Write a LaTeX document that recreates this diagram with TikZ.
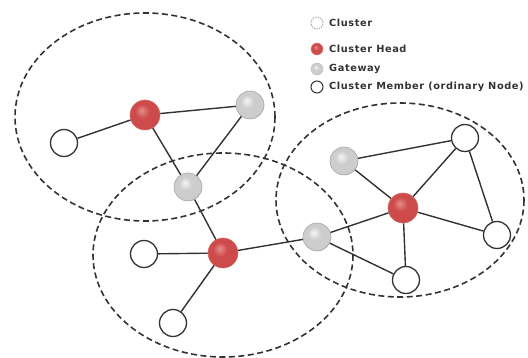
\documentclass[tikz,border=0pt]{standalone}
\usepackage{fontspec}
\setmainfont{DejaVu Sans}
\newfontfamily\legendfont[LetterSpace=6]{DejaVu Sans}
\usetikzlibrary{shadings}
\definecolor{edgecol}{RGB}{50,50,50}
\definecolor{chA}{RGB}{232,140,140}
\definecolor{chB}{RGB}{205,75,75}
\definecolor{chC}{RGB}{150,40,40}
\definecolor{gwA}{RGB}{245,245,245}
\definecolor{gwB}{RGB}{205,205,205}
\definecolor{gwC}{RGB}{145,145,145}
\pgfdeclareradialshading{redball}{\pgfpoint{-6bp}{8bp}}{color(0bp)=(chA); color(12bp)=(chB); color(26bp)=(chB); color(34bp)=(chC); color(50bp)=(chC)}
\pgfdeclareradialshading{grayball}{\pgfpoint{-6bp}{8bp}}{color(0bp)=(gwA); color(12bp)=(gwB); color(26bp)=(gwB); color(34bp)=(gwC); color(50bp)=(gwC)}
\begin{document}
\begin{tikzpicture}[x=1pt,y=-1pt,
  cluster/.style={draw=black!80,line width=1.6pt,dash pattern=on 6pt off 3.5pt},
  link/.style={draw=edgecol,line width=1.4pt},
  member/.style={circle,draw=black!80,line width=1.3pt,fill=white,minimum size=27pt,inner sep=0pt},
  head/.style={circle,draw=chB!80!white,line width=0.6pt,shading=redball,minimum size=30pt,inner sep=0pt},
  gateway/.style={circle,draw=gray!70,line width=0.6pt,shading=grayball,minimum size=28pt,inner sep=0pt},
  lmember/.style={circle,draw=black!80,line width=1pt,fill=white,minimum size=12pt,inner sep=0pt},
  lcluster/.style={circle,draw=gray!60,dash pattern=on 1.5pt off 1pt,line width=1pt,fill=white,minimum size=12pt,inner sep=0pt},
  lhead/.style={circle,draw=chB!70!white,line width=0.5pt,shading=redball,minimum size=12pt,inner sep=0pt},
  lgateway/.style={circle,draw=gray!50,line width=0.5pt,shading=grayball,minimum size=12pt,inner sep=0pt},
  ltext/.style={anchor=west,inner sep=0pt,font=\legendfont\fontsize{9.8}{11}\selectfont\bfseries,text=black!80}]
\useasboundingbox (0,0) rectangle (528,358);
% clusters
\coordinate (k1) at (145,117);
\coordinate (k2) at (223,255);
\coordinate (k3) at (400,200);
\draw[cluster] (k1) ellipse [x radius=130, y radius=104];
\draw[cluster] (k2) ellipse [x radius=130, y radius=102];
\draw[cluster] (k3) ellipse [x radius=124, y radius=97];
% nodes
\node[head] (h1) at (145,115) {};
\node[member] (m1) at (64,143) {};
\node[gateway] (g1) at (250,105) {};
\node[gateway] (g2) at (188,187) {};
\node[head] (h2) at (223,253) {};
\node[member] (m2) at (144,254) {};
\node[member] (m3) at (173,323) {};
\node[gateway] (g3) at (317,237) {};
\node[head] (h3) at (403,208) {};
\node[gateway] (g4) at (344,161) {};
\node[member] (m4) at (465,138) {};
\node[member] (m5) at (497,235) {};
\node[member] (m6) at (406,280) {};
% links
\draw[link] (m1) -- (h1);
\draw[link] (h1) -- (g1);
\draw[link] (h1) -- (g2);
\draw[link] (g1) -- (g2);
\draw[link] (g2) -- (h2);
\draw[link] (h2) -- (m2);
\draw[link] (h2) -- (m3);
\draw[link] (h2) -- (g3);
\draw[link] (g3) -- (h3);
\draw[link] (g3) -- (m6);
\draw[link] (h3) -- (g4);
\draw[link] (g4) -- (m4);
\draw[link] (h3) -- (m4);
\draw[link] (h3) -- (m5);
\draw[link] (m4) -- (m5);
\draw[link] (h3) -- (m6);
% legend
\node[lcluster] (l1) at (317,23) {};
\node[lhead] (l2) at (317,49) {};
\node[lgateway] (l3) at (317,69) {};
\node[lmember] (l4) at (317,87) {};
\node[ltext] (t1) at (329,23) {Cluster};
\node[ltext] (t2) at (329,49) {Cluster Head};
\node[ltext] (t3) at (329,69) {Gateway};
\node[ltext] (t4) at (329,87) {Cluster Member (ordinary Node)};
\end{tikzpicture}
\end{document}
